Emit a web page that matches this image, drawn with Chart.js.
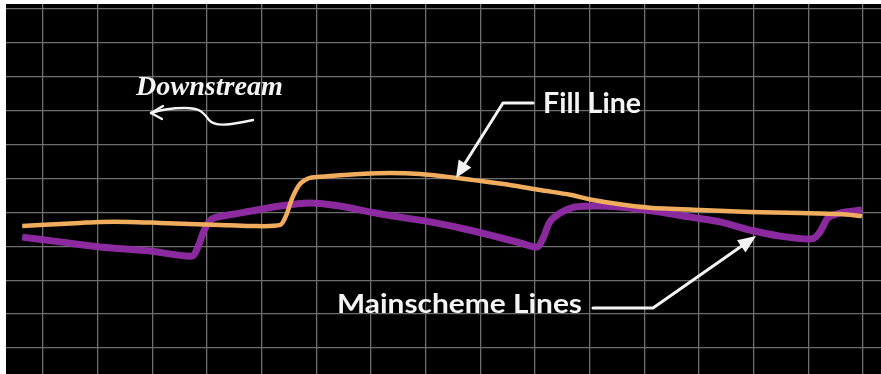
<!DOCTYPE html>
<html>
<head>
<meta charset="utf-8">
<script src="https://cdn.jsdelivr.net/npm/chart.js@4.4.1/dist/chart.umd.min.js"></script>
<style>
  html, body { margin: 0; padding: 0; background: #ffffff; }
  #wrap { width: 881px; height: 374px; position: relative; }
</style>
</head>
<body>
<div id="wrap"><canvas id="profileChart" width="881" height="374"></canvas></div>
<script>
// values in grid cells (x: along the channel, y: water surface elevation)
const fillX = [-0.38, -0.06, 0.31, 0.68, 1.04, 1.59, 2.14, 2.69, 3.24, 3.79, 4.34, 4.45, 4.56, 4.70, 4.88,
    5.25, 5.80, 6.35, 6.90, 7.45, 7.99, 8.54, 9.09, 9.64, 10.01, 10.55, 11.10, 12.02, 12.93, 13.85, 14.58, 14.98];
const fillY = [3.60, 3.63, 3.66, 3.69, 3.72, 3.72, 3.69, 3.66, 3.63, 3.60, 3.63, 3.92, 4.43, 4.84, 5.02,
    5.07, 5.13, 5.16, 5.13, 5.04, 4.93, 4.81, 4.66, 4.52, 4.38, 4.24, 4.14, 4.07, 4.01, 3.98, 3.95, 3.89];

const mainX = [-0.38, 0.31, 1.04, 1.96, 2.73, 2.84, 2.95, 3.09, 3.60, 4.34, 4.88, 5.43, 5.98, 6.53, 7.08,
    7.63, 8.18, 8.73, 9.04, 9.15, 9.27, 9.46, 9.73, 10.19, 10.74, 11.29, 11.84, 12.38, 12.93, 13.48,
    14.07, 14.21, 14.36, 14.58, 14.98];
const mainY = [3.27, 3.13, 2.98, 2.86, 2.71, 3.01, 3.48, 3.81, 3.98, 4.19, 4.28, 4.19, 4.01, 3.86, 3.72,
    3.54, 3.33, 3.10, 2.98, 3.25, 3.72, 3.98, 4.16, 4.19, 4.13, 4.01, 3.86, 3.72, 3.48, 3.30,
    3.22, 3.42, 3.84, 3.98, 4.07];

const toPoints = (xs, ys) => xs.map((x, i) => ({ x: x, y: ys[i] }));

// fit a string into a given width (the figure text is a little stretched)
function fitText(ctx, text, x, baseline, width, font) {
    ctx.save();
    ctx.font = font;
    const w = ctx.measureText(text).width;
    ctx.translate(x, baseline);
    ctx.scale(width / w, 1);
    ctx.fillText(text, 0, 0);
    ctx.restore();
}

function arrowHead(ctx, tx, ty, fx, fy, len, half) {
    const dx = fx - tx, dy = fy - ty;
    const d = Math.sqrt(dx * dx + dy * dy);
    const ux = dx / d, uy = dy / d;
    ctx.beginPath();
    ctx.moveTo(tx, ty);
    ctx.lineTo(tx + ux * len - uy * half, ty + uy * len + ux * half);
    ctx.lineTo(tx + ux * len + uy * half, ty + uy * len - ux * half);
    ctx.closePath();
    ctx.fill();
}

const backdrop = {
    id: "backdrop",
    beforeDraw(chart) {
        const a = chart.chartArea;
        const c = chart.ctx;
        c.save();
        c.fillStyle = "#000000";
        c.fillRect(a.left, a.top, a.right - a.left, a.bottom - a.top);
        c.restore();
    }
};

const callouts = {
    id: "callouts",
    afterDatasetsDraw(chart) {
        const c = chart.ctx;
        c.save();
        c.fillStyle = "#f4f4f4";
        c.strokeStyle = "#f4f4f4";
        c.lineCap = "round";
        c.lineJoin = "round";

        // Downstream
        fitText(c, "Downstream", 136, 95, 147, "italic bold 28px 'Liberation Serif'");
        c.lineWidth = 2.4;
        c.beginPath();
        c.moveTo(253, 120);
        c.bezierCurveTo(235, 124, 215, 128, 209, 120);
        c.bezierCurveTo(203, 112, 200, 108, 185, 108);
        c.bezierCurveTo(172, 108, 160, 110, 151, 113);
        c.stroke();
        c.beginPath();
        c.moveTo(163, 106);
        c.lineTo(151, 113);
        c.lineTo(162, 119);
        c.stroke();

        // Fill Line
        fitText(c, "Fill Line", 543, 113, 98, "bold 28px Lato");
        c.lineWidth = 3;
        c.beginPath();
        c.moveTo(533, 103);
        c.lineTo(503, 103);
        c.lineTo(462, 168);
        c.stroke();
        arrowHead(c, 456, 178, 503, 103, 17, 7.5);

        // Mainscheme Lines
        fitText(c, "Mainscheme Lines", 337, 313, 245, "bold 27px Lato");
        c.beginPath();
        c.moveTo(593, 308);
        c.lineTo(653, 308);
        c.lineTo(746, 243);
        c.stroke();
        arrowHead(c, 756, 236, 653, 308, 18, 7.5);
        c.restore();
    }
};

const gridColor = "#6e6e6e";
const onlyWhole = axis => { axis.ticks = axis.ticks.filter(t => Number.isInteger(t.value)); };

const ctx = document.getElementById("profileChart").getContext("2d");
const profileChart = new Chart(ctx, {
    type: "scatter",
    data: {
        datasets: [{
            label: "Fill Line",
            data: toPoints(fillX, fillY),
            showLine: true,
            borderColor: "#f1ad5e",
            borderWidth: 4.5,
            pointRadius: 0,
            tension: 0.25
        }, {
            label: "Mainscheme Lines",
            data: toPoints(mainX, mainY),
            showLine: true,
            borderColor: "rgba(146, 44, 166, 0.95)",
            borderWidth: 7,
            pointRadius: 0,
            tension: 0.25
        }]
    },
    options: {
        responsive: false,
        animation: false,
        layout: { padding: { left: 6, top: 4, right: 0, bottom: 0 } },
        plugins: {
            legend: { display: false },
            tooltip: { enabled: false }
        },
        scales: {
            x: {
                type: "linear",
                min: -0.677,
                max: 15.328,
                afterBuildTicks: onlyWhole,
                ticks: { display: false, stepSize: 1, includeBounds: false },
                grid: { color: gridColor, lineWidth: 1.3, drawTicks: false },
                border: { display: false }
            },
            y: {
                type: "linear",
                min: -0.767,
                max: 10.147,
                afterBuildTicks: onlyWhole,
                ticks: { display: false, stepSize: 1, includeBounds: false },
                grid: { color: gridColor, lineWidth: 1.3, drawTicks: false },
                border: { display: false }
            }
        }
    },
    plugins: [backdrop, callouts]
});
</script>
</body>
</html>
